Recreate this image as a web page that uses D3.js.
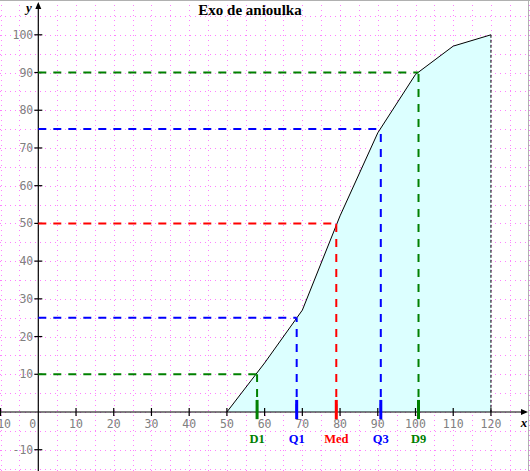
<!DOCTYPE html>
<html><head><meta charset="utf-8">
<script src="https://cdn.jsdelivr.net/npm/d3@7"></script>
<style>html,body{margin:0;padding:0;background:#fff;overflow:hidden}</style>
</head><body>
<script>
// ---- data ----
const curveX = [50, 60, 70, 80, 90, 100, 110, 120];
const curveY = [0, 13, 27, 52, 74, 89.5, 97, 100];
const quantileNames = ["D1", "Q1", "Med", "Q3", "D9"];
const quantileX = [58, 68.5, 79, 90.8, 100.8];
const quantileY = [10, 25, 50, 75, 90];
const quantileColors = ["#008000", "#0000ff", "#ff0000", "#0000ff", "#008000"];
const xTicks = [-10, 0, 10, 20, 30, 40, 50, 60, 70, 80, 90, 100, 110, 120];
const yTicks = [-10, 10, 20, 30, 40, 50, 60, 70, 80, 90, 100];
const title = "Exo de anioulka";

const W = 530, H = 471;
const x0 = 38.3, y0 = 412, k = 3.772;
const x = d3.scaleLinear().domain([-x0 / k, (W - x0) / k]).range([0, W]);
const y = d3.scaleLinear().domain([-(H - y0) / k, y0 / k]).range([H, 0]);

const svg = d3.select("body").append("svg").attr("width", W).attr("height", H)
  .style("display", "block");

// grid
const grid = svg.append("g").attr("stroke", "#ff80ff").attr("stroke-width", 1)
  .attr("stroke-dasharray", "1,4").attr("shape-rendering", "crispEdges");
for (let v = -10; v <= 130; v += 5) {
  grid.append("line").attr("x1", Math.round(x(v)) + 0.5).attr("x2", Math.round(x(v)) + 0.5)
    .attr("y1", 0).attr("y2", H);
}
for (let v = -15; v <= 105; v += 5) {
  grid.append("line").attr("y1", Math.round(y(v)) + 0.5).attr("y2", Math.round(y(v)) + 0.5)
    .attr("x1", 0).attr("x2", W);
}

// fill area
const pts = curveX.map((d, i) => [d, curveY[i]]);
const area = d3.area().x(d => x(d[0])).y0(y(0)).y1(d => y(d[1]));
svg.append("path").datum(pts).attr("d", area).attr("fill", "#dcffff").attr("stroke", "none");

// closing dashed line at last point
const last = pts[pts.length - 1];
svg.append("line").attr("x1", x(last[0])).attr("x2", x(last[0]))
  .attr("y1", y(last[1])).attr("y2", y(0))
  .attr("stroke", "#000").attr("stroke-width", 1).attr("stroke-dasharray", "3,2");

// curve
svg.append("path").datum(pts)
  .attr("d", d3.line().x(d => x(d[0])).y(d => y(d[1])))
  .attr("fill", "none").attr("stroke", "#000").attr("stroke-width", 1);

// axes
const axis = svg.append("g").attr("stroke", "#000").attr("stroke-width", 1.2);
axis.append("line").attr("x1", 0).attr("x2", W - 4).attr("y1", y(0)).attr("y2", y(0));
axis.append("line").attr("x1", x(0)).attr("x2", x(0)).attr("y1", H).attr("y2", 4);
svg.append("path").attr("d", `M${W - 2},${y(0)} l-7,-3 l0,6 z`).attr("fill", "#000");
svg.append("path").attr("d", `M${x(0)},2 l-3,7 l6,0 z`).attr("fill", "#000");

const tickFont = "'DejaVu Sans Mono', monospace";
xTicks.forEach(t => {
  if (t !== 0) {
    axis.append("line").attr("x1", x(t)).attr("x2", x(t)).attr("y1", y(0) - 4).attr("y2", y(0) + 4);
  }
  svg.append("text").attr("x", t === 0 ? x(t) - 2 : x(t)).attr("y", y(0) + 16)
    .attr("text-anchor", t === 0 ? "end" : "middle")
    .attr("font-family", tickFont).attr("font-size", 11.5).attr("fill", "#808080")
    .text(t);
});
yTicks.forEach(t => {
  axis.append("line").attr("x1", x(0) - 4).attr("x2", x(0) + 4).attr("y1", y(t)).attr("y2", y(t));
  svg.append("text").attr("x", x(0) - 5).attr("y", y(t) + 4)
    .attr("text-anchor", "end")
    .attr("font-family", tickFont).attr("font-size", 11.5).attr("fill", "#808080")
    .text(t);
});

// quantile lines
quantileNames.forEach((name, i) => {
  const c = quantileColors[i];
  const qx = quantileX[i], qy = quantileY[i];
  svg.append("line").attr("x1", x(0)).attr("x2", x(qx)).attr("y1", y(qy)).attr("y2", y(qy))
    .attr("stroke", c).attr("stroke-width", 2).attr("stroke-dasharray", "8,7");
  svg.append("line").attr("x1", x(qx)).attr("x2", x(qx)).attr("y1", y(0)).attr("y2", y(qy))
    .attr("stroke", c).attr("stroke-width", 2).attr("stroke-dasharray", "8,7");
  svg.append("line").attr("x1", x(qx)).attr("x2", x(qx)).attr("y1", y(3.2)).attr("y2", y(-1.9))
    .attr("stroke", c).attr("stroke-width", 3);
  svg.append("text").attr("x", x(qx)).attr("y", y(0) + 31)
    .attr("text-anchor", "middle").attr("font-family", "'Liberation Serif', serif")
    .attr("font-weight", "bold").attr("font-size", 12.5).attr("fill", c).text(name);
});

// title & axis names
svg.append("text").attr("x", 250).attr("y", 15).attr("text-anchor", "middle")
  .attr("font-family", "'Liberation Serif', serif").attr("font-weight", "bold")
  .attr("font-size", 15).attr("fill", "#000").text(title);
svg.append("text").attr("x", 29).attr("y", 12).attr("text-anchor", "middle")
  .attr("font-family", "'Liberation Serif', serif").attr("font-weight", "bold")
  .attr("font-style", "italic").attr("font-size", 13).text("y");
svg.append("text").attr("x", 524).attr("y", 427).attr("text-anchor", "middle")
  .attr("font-family", "'Liberation Serif', serif").attr("font-weight", "bold")
  .attr("font-style", "italic").attr("font-size", 13).text("x");

// border
svg.append("line").attr("x1", 0).attr("x2", W).attr("y1", 0.5).attr("y2", 0.5).attr("stroke", "#b0b0b0");
svg.append("line").attr("x1", W - 1.5).attr("x2", W - 1.5).attr("y1", 0).attr("y2", H).attr("stroke", "#b0b0b0");
</script>
</body></html>
